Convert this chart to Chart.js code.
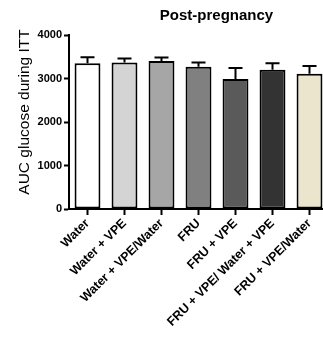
<!DOCTYPE html>
<html>
<head>
<meta charset="utf-8">
<script src="https://cdn.jsdelivr.net/npm/chart.js@4/dist/chart.umd.min.js"></script>
<style>
  html, body { margin: 0; padding: 0; background: #fff; overflow: hidden; }
  #wrap { width: 328px; height: 341px; position: relative; }
</style>
</head>
<body>
<div id="wrap"><canvas id="aucChart"></canvas></div>
<script>
// Groups and values (mean AUC, SEM)
const groups = ['Water', 'Water + VPE', 'Water + VPE/Water', 'FRU', 'FRU + VPE', 'FRU + VPE/ Water + VPE', 'FRU + VPE/Water'];
const means = [3350, 3370, 3400, 3270, 2990, 3200, 3110];
const sems = [140, 90, 85, 100, 250, 150, 175];
const barColors = ['#ffffff', '#d4d4d4', '#a6a6a6', '#808080', '#5a5a5a', '#333333', '#ece5cd'];
const yTicks = [0, 1000, 2000, 3000, 4000];

const chartTitle = 'Post-pregnancy';
const yTitle = 'AUC glucose during ITT';

// Upper SEM whiskers + titles
const extras = {
  id: 'extras',
  afterDatasetsDraw(chart) {
    const ctx = chart.ctx;
    const x = chart.scales.x, y = chart.scales.y;
    ctx.save();
    ctx.strokeStyle = '#000';
    ctx.lineWidth = 2;
    means.forEach((m, i) => {
      const px = x.getPixelForValue(i);
      const top = y.getPixelForValue(m + sems[i]);
      const base = y.getPixelForValue(m);
      ctx.beginPath();
      ctx.moveTo(px, base);
      ctx.lineTo(px, top);
      ctx.moveTo(px - 7, top);
      ctx.lineTo(px + 7, top);
      ctx.stroke();
    });
    ctx.restore();
  },
  afterDraw(chart) {
    const ctx = chart.ctx;
    const area = chart.chartArea;
    ctx.save();
    ctx.fillStyle = '#000';
    ctx.textAlign = 'center';
    ctx.textBaseline = 'alphabetic';
    ctx.font = 'bold 15px "Liberation Sans", Arial, sans-serif';
    ctx.fillText(chartTitle, (area.left + area.right) / 2 + 18, 20);
    ctx.translate(29, (area.top + area.bottom) / 2 - 10);
    ctx.rotate(-Math.PI / 2);
    ctx.font = '15.5px "Liberation Sans", Arial, sans-serif';
    ctx.fillText(yTitle, 0, 0);
    ctx.restore();
  }
};

const ctx = document.getElementById('aucChart').getContext('2d');
new Chart(ctx, {
  type: 'bar',
  data: {
    labels: groups,
    datasets: [{
      data: means,
      backgroundColor: barColors,
      borderColor: '#000',
      borderWidth: 2,
      borderSkipped: false,
      categoryPercentage: 1,
      barPercentage: 0.7
    }]
  },
  options: {
    responsive: true,
    maintainAspectRatio: false,
    animation: false,
    layout: { padding: { top: 35, left: 0, right: 0, bottom: 0 } },
    plugins: { legend: { display: false }, tooltip: { enabled: false }, title: { display: false } },
    scales: {
      x: {
        grid: { display: true, drawOnChartArea: false, offset: false, tickLength: 6, tickColor: '#000', tickWidth: 2 },
        border: { display: true, color: '#000', width: 2 },
        ticks: {
          color: '#000',
          font: { family: '"Liberation Sans", Arial, sans-serif', size: 12.5, weight: 'bold' },
          minRotation: 45,
          maxRotation: 45,
          autoSkip: false,
          padding: 1
        },
        afterFit(scale) { scale.height = 132; }
      },
      y: {
        min: 0,
        max: 4000,
        afterBuildTicks(scale) { scale.ticks = yTicks.map(v => ({ value: v })); },
        grid: { display: true, drawOnChartArea: false, tickLength: 5, tickColor: '#000', tickWidth: 2 },
        border: { display: true, color: '#000', width: 2 },
        ticks: {
          color: '#000',
          font: { family: '"Liberation Sans", Arial, sans-serif', size: 11, weight: 'bold' },
          padding: 2,
          callback: v => String(v)
        },
        afterFit(scale) { scale.width = 69; }
      }
    }
  },
  plugins: [extras]
});
</script>
</body>
</html>
